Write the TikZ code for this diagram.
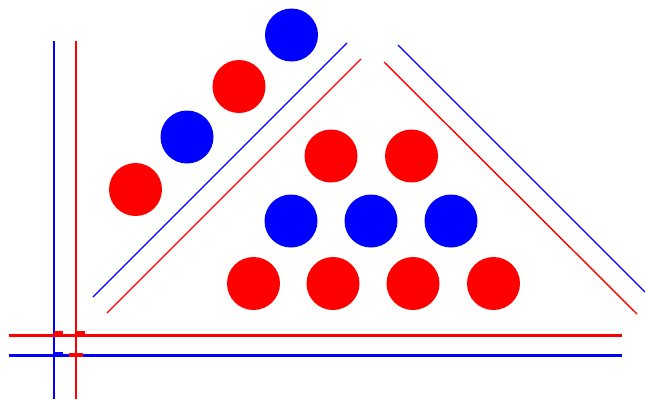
\documentclass[tikz,border=0pt]{standalone}
\usepackage{tikz}
\usetikzlibrary{positioning, calc}
\tikzset{%
   % balls of the rack, one px is one pt
   rball/.style={
      circle,
      fill=red,
      inner sep=0pt,
      outer sep=0pt,
      minimum size=53pt
   },
   bball/.style={
      rball,
      fill=blue
   },
   rline/.style={draw=red, line width=1.4pt},
   bline/.style={draw=blue, line width=1.4pt},
   axis/.style={line width=2pt},
   tick/.style={inner sep=0pt, outer sep=0pt, minimum width=9pt, minimum height=3pt},
}

\begin{document}
\begin{tikzpicture}[x=1pt, y=-1pt]
  \useasboundingbox (0,0) rectangle (645,399);
  % axes
  \draw[bline, axis] (54,41) -- (54,399);
  \draw[rline, axis] (76,41) -- (76,399);
  \draw[rline, line width=3pt] (9,335) -- (622,335);
  \draw[bline, line width=3pt] (9,355) -- (622,355);
  \node[tick, fill=red]  (t1) at (58,332.5) {};
  \node[tick, fill=red]  (t2) at (80,332.5) {};
  \node[tick, fill=blue] (t3) at (58,353) {};
  \node[tick, fill=red, minimum width=14pt, minimum height=4pt] (t4) at (76,354.5) {};
  % the diagonal row
  \node[bball] (d1) at (291.5,35)  {};
  \node[rball] (d2) at (239,86.5)  {};
  \node[bball] (d3) at (187,137)   {};
  \node[rball] (d4) at (135.5,189.5) {};
  \draw[bline, line width=1.1pt] (93,297) -- (347,43);
  \draw[rline, line width=1.1pt] (107,313) -- (361,59);
  % the triangle
  \node[rball] (a1) at (331,156) {};
  \node[rball] (a2) at (411.5,156) {};
  \foreach \i/\x in {1/291,2/371,3/451}
    \node[bball] (b\i) at (\x,221) {};
  \foreach \i/\x in {1/253.5,2/333,3/413,4/493.5}
    \node[rball] (c\i) at (\x,283.5) {};
  \draw[bline] (398,45) -- (645,292);
  \draw[rline] (384,62) -- (637,314);
\end{tikzpicture}
\end{document}
